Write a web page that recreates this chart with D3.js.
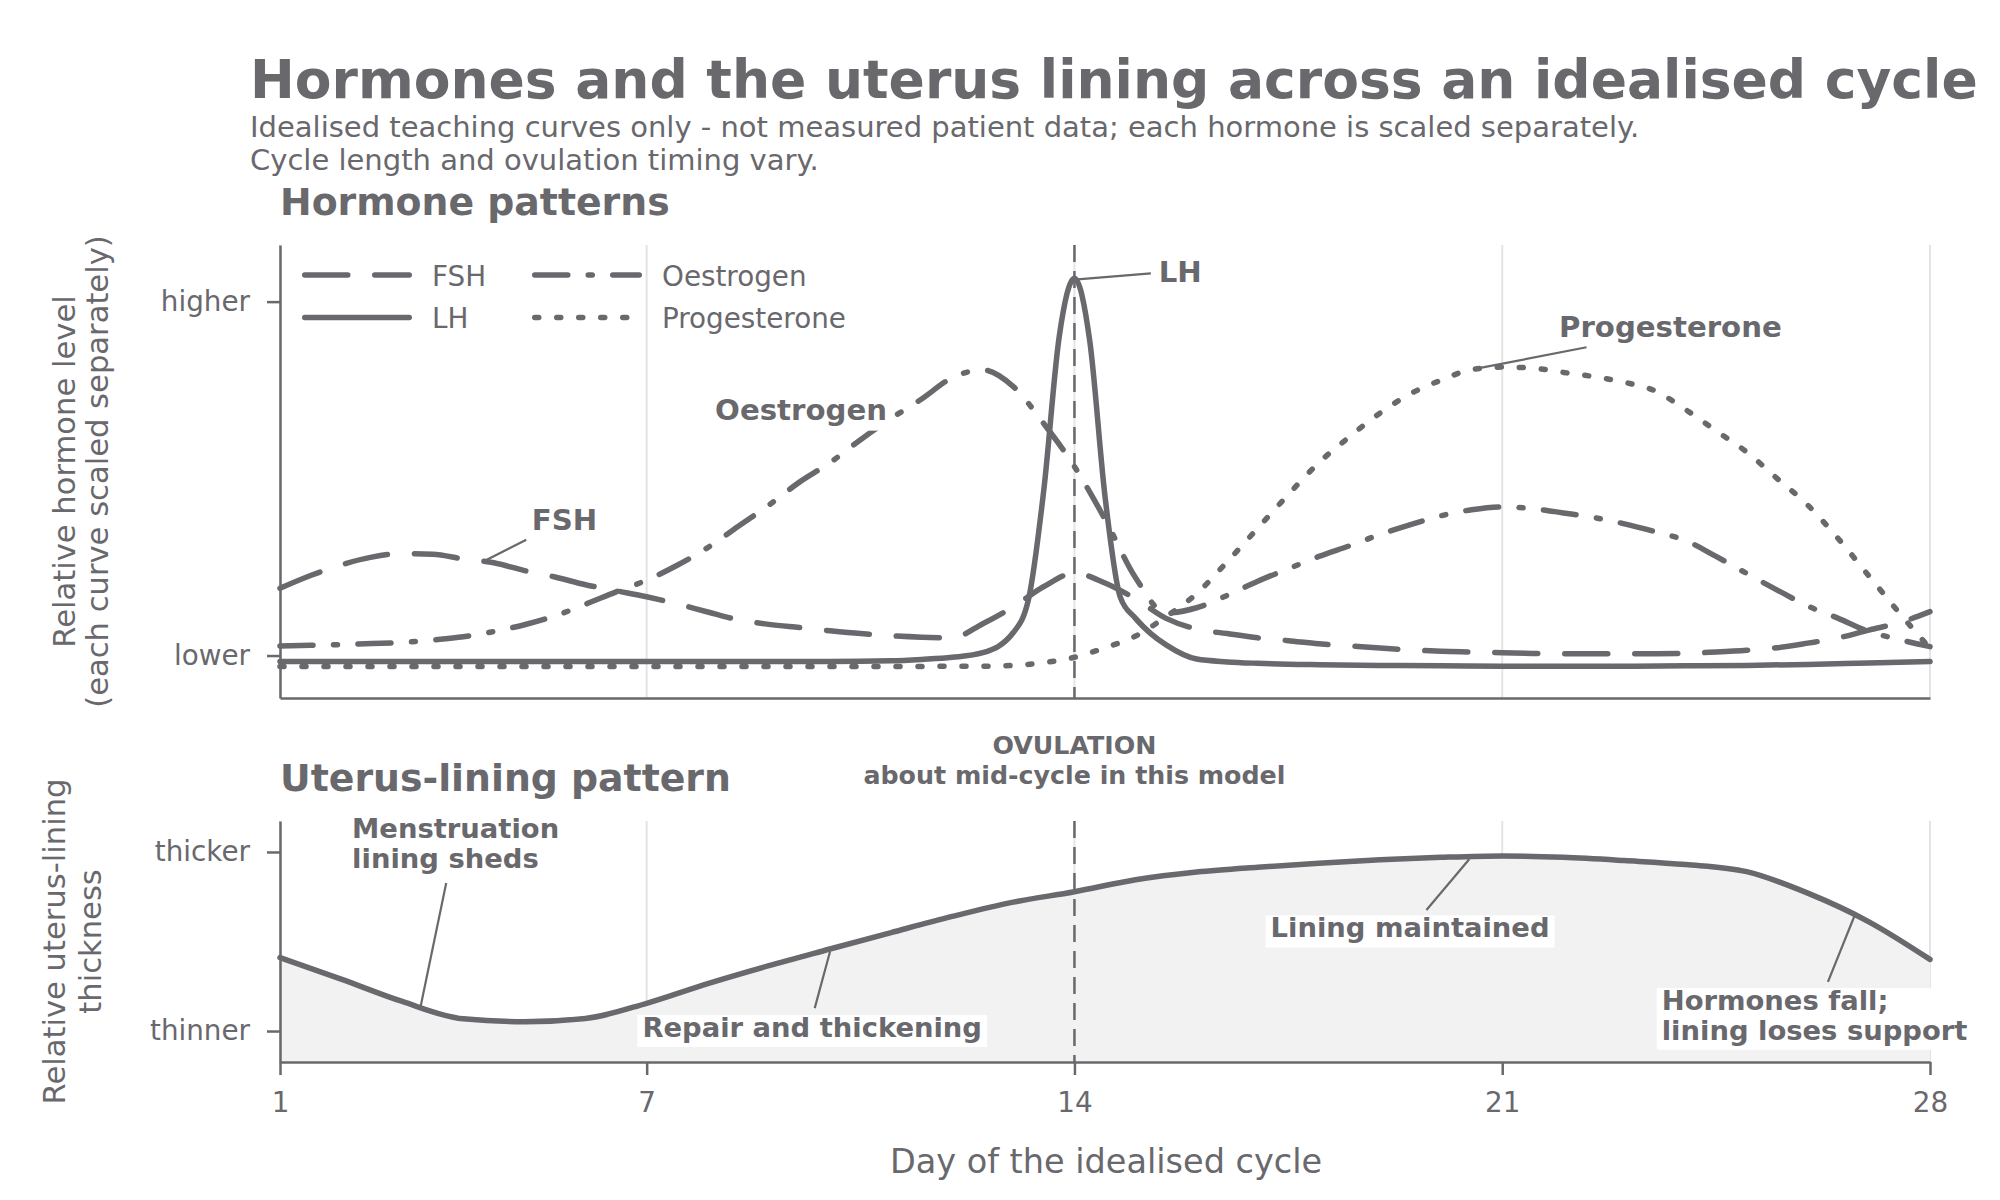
<!DOCTYPE html>
<html>
<head>
<meta charset="utf-8">
<script src="https://cdn.jsdelivr.net/npm/d3@7"></script>
<style>
body { margin: 0; background: #ffffff; }
svg text { font-family: "DejaVu Sans", sans-serif; fill: #68686d; }
</style>
</head>
<body>
<script>
// DATA

// hormone curves, half-day steps
var hormone_days = [1, 1.5, 2, 2.5, 3, 3.5, 4, 4.5, 5, 5.5,
	6, 6.5, 7, 7.5, 8, 8.5, 9, 9.5, 10, 10.5,
	11, 11.5, 12, 12.5, 13, 13.5, 14, 14.5, 15, 15.5,
	16, 16.5, 17, 17.5, 18, 18.5, 19, 19.5, 20, 20.5,
	21, 21.5, 22, 22.5, 23, 23.5, 24, 24.5, 25, 25.5,
	26, 26.5, 27, 27.5, 28];

var fsh_level = [0.19, 0.226, 0.256, 0.278, 0.288, 0.286, 0.273, 0.262, 0.24, 0.222,
	0.2, 0.183, 0.166, 0.146, 0.123, 0.101, 0.088, 0.079, 0.07, 0.062,
	0.056, 0.052, 0.05, 0.09, 0.138, 0.195, 0.233, 0.205, 0.16, 0.105,
	0.075, 0.062, 0.05, 0.042, 0.033, 0.027, 0.021, 0.016, 0.012, 0.01,
	0.008, 0.006, 0.005, 0.005, 0.005, 0.005, 0.006, 0.01, 0.015, 0.022,
	0.035, 0.05, 0.072, 0.093, 0.124];

var oestrogen_level = [0.027, 0.029, 0.031, 0.034, 0.037, 0.044, 0.053, 0.068, 0.087, 0.112,
	0.145, 0.18, 0.213, 0.255, 0.305, 0.365, 0.425, 0.49, 0.545, 0.61,
	0.67, 0.725, 0.785, 0.807, 0.76, 0.655, 0.534, 0.385, 0.22, 0.12,
	0.135, 0.17, 0.21, 0.245, 0.28, 0.31, 0.342, 0.37, 0.395, 0.412,
	0.42, 0.415, 0.403, 0.39, 0.372, 0.35, 0.325, 0.28, 0.232, 0.185,
	0.14, 0.105, 0.068, 0.045, 0.025];

var progesterone_level = [-0.031, -0.031, -0.031, -0.031, -0.031, -0.031, -0.031, -0.031, -0.031, -0.031,
	-0.031, -0.031, -0.031, -0.031, -0.031, -0.031, -0.031, -0.031, -0.031, -0.031,
	-0.031, -0.031, -0.03, -0.03, -0.028, -0.02, -0.005, 0.022, 0.055, 0.11,
	0.175, 0.265, 0.36, 0.455, 0.545, 0.618, 0.685, 0.74, 0.778, 0.808,
	0.815, 0.812, 0.8, 0.788, 0.772, 0.748, 0.695, 0.635, 0.575, 0.5,
	0.425, 0.33, 0.225, 0.12, 0.02];

// LH needs finer steps round the surge
var lh_days = [1, 2, 3, 4, 5, 6, 7, 8, 9, 10,
	11, 11.5, 12, 12.5, 13, 13.25, 13.5, 13.75, 14, 14.25,
	14.5, 14.75, 15, 15.25, 15.5, 16, 16.5, 17, 18, 19,
	20, 21, 22, 23, 24, 25, 26, 27, 28];

var lh_level = [-0.017, -0.017, -0.017, -0.017, -0.017, -0.017, -0.017, -0.017, -0.017, -0.017,
	-0.015, -0.011, -0.005, 0.008, 0.065, 0.16, 0.47, 0.9, 1.066, 0.89,
	0.45, 0.165, 0.105, 0.062, 0.03, -0.01, -0.018, -0.022, -0.026, -0.028,
	-0.029, -0.03, -0.03, -0.03, -0.029, -0.028, -0.025, -0.021, -0.017];

// uterus lining, whole days
var lining_days = [1, 2, 3, 4, 5, 6, 7, 8, 9, 10, 11, 12, 13, 14,
	15, 16, 17, 18, 19, 20, 21, 22, 23, 24, 25, 26, 27, 28];
var lining_level = [0.41, 0.29, 0.165, 0.068, 0.052, 0.07, 0.155, 0.265, 0.365, 0.458, 0.55, 0.64, 0.72, 0.778,
	0.845, 0.888, 0.915, 0.937, 0.956, 0.97, 0.978, 0.97, 0.952, 0.93, 0.89, 0.77, 0.61, 0.4];

var day_ticks = [1, 7, 14, 21, 28];
var hormone_ticks = [0, 1];
var hormone_tick_labels = ["lower", "higher"];
var lining_ticks = [0, 1];
var lining_tick_labels = ["thinner", "thicker"];
var ovulation_day = 14;

var hormone_names = ["FSH", "LH", "Oestrogen", "Progesterone"];

// annotation anchors in data units: [day, level]
var hormone_notes = [
	{"text": ["FSH"], "at": [5.12, 0.355], "from": [5.03, 0.327], "to": [4.32, 0.265], "box": false},
	{"text": ["LH"], "at": [15.38, 1.056], "from": [15.25, 1.08], "to": [14.05, 1.063], "box": false},
	{"text": ["Progesterone"], "at": [21.93, 0.901], "from": [22.38, 0.871], "to": [20.62, 0.812], "box": false},
	{"text": ["Oestrogen"], "at": [8.12, 0.666], "from": null, "to": null, "box": true}
];
var lining_notes = [
	{"text": ["Menstruation", "lining sheds"], "at": [2.18, 1.077], "from": [3.72, 0.827], "to": [3.30, 0.136], "box": false},
	{"text": ["Repair and thickening"], "at": [6.93, -0.032], "from": [9.75, 0.128], "to": [10.0, 0.443], "box": true},
	{"text": ["Lining maintained"], "at": [17.21, 0.523], "from": [19.76, 0.676], "to": [20.46, 0.959], "box": true},
	{"text": ["Hormones fall;", "lining loses support"], "at": [23.61, 0.117], "from": [26.33, 0.275], "to": [26.77, 0.648], "box": true}
];

// STYLE

var ink = "#68686d";
var grid_colour = "#e4e4e4";
var fill_colour = "#f2f2f2";
var curve_width = 5.5;
var dash_styles = {
	"FSH": "43,27",
	"LH": null,
	"Oestrogen": "33,20.5,4,20.5",
	"Progesterone": "4,18"
};

// SCALES

var x = d3.scaleLinear().domain([1, 28]).range([280, 1930]);
var y_hormone = d3.scaleLinear().domain([-0.12, 1.16]).range([698, 245]);
var y_lining = d3.scaleLinear().domain([-0.173, 1.173]).range([1062, 821]);

var svg = d3.select("body")
	.append("svg")
	.attr("width", 2000)
	.attr("height", 1200);

// TITLES

svg.append("text").attr("x", 250).attr("y", 98)
	.attr("font-size", 53.5).attr("font-weight", "bold")
	.text("Hormones and the uterus lining across an idealised cycle");
svg.append("text").attr("x", 250).attr("y", 137).attr("font-size", 29)
	.text("Idealised teaching curves only - not measured patient data; each hormone is scaled separately.");
svg.append("text").attr("x", 250).attr("y", 170).attr("font-size", 29)
	.text("Cycle length and ovulation timing vary.");
svg.append("text").attr("x", 280).attr("y", 215)
	.attr("font-size", 37.8).attr("font-weight", "bold")
	.text("Hormone patterns");
svg.append("text").attr("x", 280).attr("y", 791)
	.attr("font-size", 37.8).attr("font-weight", "bold")
	.text("Uterus-lining pattern");

// GRID

var draw_grid = function(y_scale)
{
	svg.append("g").selectAll("line")
		.data(day_ticks)
		.enter()
		.append("line")
		.attr("x1", function(d){ return x(d); })
		.attr("x2", function(d){ return x(d); })
		.attr("y1", y_scale.range()[1])
		.attr("y2", y_scale.range()[0])
		.attr("stroke", grid_colour)
		.attr("stroke-width", 2);
}
draw_grid(y_hormone);
draw_grid(y_lining);

// LINING FILL

var lining_points = lining_days.map(function(d, i){ return {"day": d, "v": lining_level[i]}; });

svg.append("path")
	.datum(lining_points)
	.attr("fill", fill_colour)
	.attr("d", d3.area()
		.x(function(d){ return x(d.day); })
		.y0(y_lining.range()[0])
		.y1(function(d){ return y_lining(d.v); })
		.curve(d3.curveMonotoneX));

// OVULATION LINE

[y_hormone, y_lining].map(function(y_scale){
	svg.append("line")
		.attr("x1", x(ovulation_day)).attr("x2", x(ovulation_day))
		.attr("y1", y_scale.range()[1]).attr("y2", y_scale.range()[0])
		.attr("stroke", ink)
		.attr("stroke-width", 2.5)
		.attr("stroke-dasharray", "17,9");
});

// CURVES

var hormone_series = [
	{"name": "FSH", "days": hormone_days, "level": fsh_level},
	{"name": "Oestrogen", "days": hormone_days, "level": oestrogen_level},
	{"name": "Progesterone", "days": hormone_days, "level": progesterone_level},
	{"name": "LH", "days": lh_days, "level": lh_level}
];

var hormone_line = d3.line()
	.x(function(d){ return x(d.day); })
	.y(function(d){ return y_hormone(d.v); })
	.curve(d3.curveMonotoneX);

svg.append("g").selectAll("path")
	.data(hormone_series)
	.enter()
	.append("path")
	.attr("d", function(s){
		return hormone_line(s.days.map(function(d, i){ return {"day": d, "v": s.level[i]}; }));
	})
	.attr("fill", "none")
	.attr("stroke", ink)
	.attr("stroke-width", curve_width)
	.attr("stroke-linecap", "round")
	.attr("stroke-linejoin", "round")
	.attr("stroke-dasharray", function(s){ return dash_styles[s.name]; });

svg.append("path")
	.datum(lining_points)
	.attr("d", d3.line()
		.x(function(d){ return x(d.day); })
		.y(function(d){ return y_lining(d.v); })
		.curve(d3.curveMonotoneX))
	.attr("fill", "none")
	.attr("stroke", ink)
	.attr("stroke-width", curve_width)
	.attr("stroke-linecap", "round");

// AXES

var style_axis = function(g)
{
	g.select(".domain").attr("stroke", ink).attr("stroke-width", 2.5);
	g.selectAll(".tick line").attr("stroke", ink).attr("stroke-width", 2.5);
	g.selectAll(".tick text").attr("fill", ink).attr("font-size", 27.8)
		.attr("font-family", "DejaVu Sans");
}

svg.append("g")
	.attr("transform", "translate(" + x.range()[0] + ",0)")
	.call(d3.axisLeft(y_hormone).tickValues(hormone_ticks)
		.tickFormat(function(d, i){ return hormone_tick_labels[i]; })
		.tickSize(13).tickPadding(17).tickSizeOuter(0))
	.call(style_axis);

svg.append("g")
	.attr("transform", "translate(0," + y_hormone.range()[0] + ")")
	.call(d3.axisBottom(x).tickValues([]).tickSizeOuter(0))
	.call(style_axis);

svg.append("g")
	.attr("transform", "translate(" + x.range()[0] + ",0)")
	.call(d3.axisLeft(y_lining).tickValues(lining_ticks)
		.tickFormat(function(d, i){ return lining_tick_labels[i]; })
		.tickSize(13).tickPadding(17).tickSizeOuter(0))
	.call(style_axis);

svg.append("g")
	.attr("transform", "translate(0," + y_lining.range()[0] + ")")
	.call(d3.axisBottom(x).tickValues(day_ticks)
		.tickSize(13).tickPadding(17).tickSizeOuter(0))
	.call(style_axis);

// axis labels
svg.append("text")
	.attr("transform", "translate(75," + d3.mean(y_hormone.range()) + ") rotate(-90)")
	.attr("text-anchor", "middle").attr("font-size", 30.6)
	.text("Relative hormone level");
svg.append("text")
	.attr("transform", "translate(108," + d3.mean(y_hormone.range()) + ") rotate(-90)")
	.attr("text-anchor", "middle").attr("font-size", 30.6)
	.text("(each curve scaled separately)");
svg.append("text")
	.attr("transform", "translate(65," + d3.mean(y_lining.range()) + ") rotate(-90)")
	.attr("text-anchor", "middle").attr("font-size", 30.6)
	.text("Relative uterus-lining");
svg.append("text")
	.attr("transform", "translate(101," + d3.mean(y_lining.range()) + ") rotate(-90)")
	.attr("text-anchor", "middle").attr("font-size", 30.6)
	.text("thickness");
svg.append("text")
	.attr("x", d3.mean(x.range()) + 1).attr("y", 1173)
	.attr("text-anchor", "middle").attr("font-size", 33.5)
	.text("Day of the idealised cycle");

// LEGEND

var legend_cols = [302, 532];
var legend_rows = [275, 317.6];
hormone_names.map(function(name, i){
	var lx = legend_cols[Math.floor(i / 2)];
	var ly = legend_rows[i % 2];
	svg.append("line")
		.attr("x1", lx + 2.75).attr("x2", lx + 107.25)
		.attr("y1", ly).attr("y2", ly)
		.attr("stroke", ink)
		.attr("stroke-width", curve_width)
		.attr("stroke-linecap", "round")
		.attr("stroke-dasharray", dash_styles[name]);
	svg.append("text")
		.attr("x", lx + 130).attr("y", ly + 10.5)
		.attr("font-size", 27.8)
		.text(name);
});

// OVULATION NOTE

svg.append("text").attr("x", x(ovulation_day)).attr("y", 754)
	.attr("text-anchor", "middle").attr("font-size", 25.3).attr("font-weight", "bold")
	.text("OVULATION");
svg.append("text").attr("x", x(ovulation_day)).attr("y", 784)
	.attr("text-anchor", "middle").attr("font-size", 25.3).attr("font-weight", "bold")
	.text("about mid-cycle in this model");

// ANNOTATIONS

var draw_notes = function(notes, y_scale, font_size, line_gap)
{
	notes.map(function(n){
		if (n.from)
		{
			svg.append("line")
				.attr("x1", x(n.from[0])).attr("y1", y_scale(n.from[1]))
				.attr("x2", x(n.to[0])).attr("y2", y_scale(n.to[1]))
				.attr("stroke", ink)
				.attr("stroke-width", 2.2);
		}
		var g = svg.append("g");
		var tx = x(n.at[0]);
		var ty = y_scale(n.at[1]);
		var t = g.append("text")
			.attr("x", tx).attr("y", ty)
			.attr("font-size", font_size).attr("font-weight", "bold");
		n.text.map(function(line, i){
			t.append("tspan").attr("x", tx).attr("y", ty + i * line_gap).text(line);
		});
		if (n.box)
		{
			var bb = t.node().getBBox();
			g.insert("rect", "text")
				.attr("x", bb.x - 5)
				.attr("y", ty - 0.8 * font_size)
				.attr("width", bb.width + 10)
				.attr("height", (n.text.length - 1) * line_gap + 1.17 * font_size)
				.attr("fill", "#ffffff");
		}
	});
}

draw_notes(hormone_notes, y_hormone, 29.2, 30);
draw_notes(lining_notes, y_lining, 27.4, 29.5);

</script>
</body>
</html>
